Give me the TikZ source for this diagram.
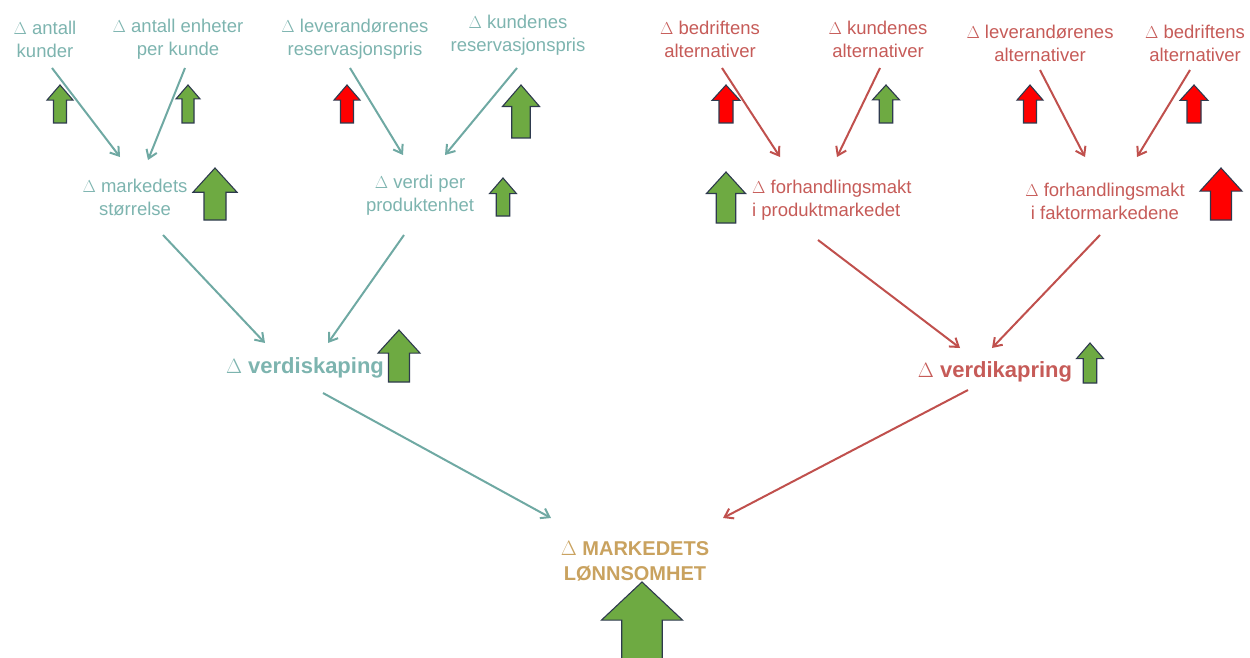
\documentclass[tikz,border=0pt]{standalone}
\usepackage{fontspec}
\setmainfont{Liberation Sans}
\usetikzlibrary{arrows.meta,calc}
\definecolor{tealtxt}{HTML}{7DB4AF}
\definecolor{tealln}{HTML}{6FA9A3}
\definecolor{redtxt}{HTML}{C65B58}
\definecolor{redln}{HTML}{C0504D}
\definecolor{goldtxt}{HTML}{C9A25F}
\definecolor{agreen}{HTML}{6EAA42}
\definecolor{ared}{HTML}{FF0000}
\definecolor{aedge}{HTML}{2E3A4E}
\newcommand\blockup[6]{%
  \pgfmathsetmacro\hw{#5/2}\pgfmathsetmacro\sw{#5/4}\pgfmathsetmacro\hy{#3+#6*#5}%
  \draw[blockline,fill=#1] (#2,#3) -- (#2+\hw,\hy) -- (#2+\sw,\hy) -- (#2+\sw,#4)
    -- (#2-\sw,#4) -- (#2-\sw,\hy) -- (#2-\hw,\hy) -- cycle;}
\begin{document}
\begin{tikzpicture}[x=1pt,y=-1pt,
  lbl/.style={align=center,inner sep=0pt,font=\fontsize{18.5}{23}\selectfont},
  tl/.style={lbl,text=tealtxt},
  rl/.style={lbl,text=redtxt},
  big/.style={inner sep=0pt,font=\fontsize{22}{26}\selectfont\bfseries},
  tconn/.style={draw=tealln,line width=2pt,-{Straight Barb[length=8pt,width=11pt]}},
  rconn/.style={draw=redln,line width=2pt,-{Straight Barb[length=8pt,width=11pt]}},
  blockline/.style={draw=aedge,line width=1.1pt,line join=miter}]
\useasboundingbox (0,0) rectangle (1250,658);
\clip (0,0) rectangle (1250,658);
% top row, teal
\node[tl] (ak) at (45,39) {$\Delta$ antall\\kunder};
\node[tl] (ae) at (178,39) {$\Delta$ antall enheter\\per kunde};
\node[tl] (lr) at (355,39) {$\Delta$ leverandørenes\\reservasjonspris};
\node[tl] (kr) at (518,35) {$\Delta$ kundenes\\reservasjonspris};
% top row, red
\node[rl] (ba) at (710,39) {$\Delta$ bedriftens\\alternativer};
\node[rl] (ka) at (878,39) {$\Delta$ kundenes\\alternativer};
\node[rl] (la) at (1040,43) {$\Delta$ leverandørenes\\alternativer};
\node[rl] (bb) at (1195,43) {$\Delta$ bedriftens\\alternativer};
% middle row
\node[tl] (ms) at (135,197) {$\Delta$ markedets\\størrelse};
\node[tl] (vp) at (420,195) {$\Delta$ verdi per\\produktenhet};
\node[rl,align=left,anchor=west] (fp) at (752,200) {$\Delta$ forhandlingsmakt\\i produktmarkedet};
\node[rl] (ff) at (1105,201) {$\Delta$ forhandlingsmakt\\i faktormarkedene};
% third row
\node[big,text=tealtxt] (vs) at (305,368) {$\Delta$ verdiskaping};
\node[big,text=redtxt] (vk) at (995,372) {$\Delta$ verdikapring};
% bottom
\node[inner sep=0pt,align=center,text=goldtxt,font=\fontsize{20}{25}\selectfont\bfseries] (ml) at (635,561) {$\Delta$ MARKEDETS\\LØNNSOMHET};
% connectors
\draw[tconn] ($(ak)+(7,29)$) -- ($(ms)+(-15,-40)$);
\draw[tconn] ($(ae)+(7,29)$) -- ($(ms)+(13,-37)$);
\draw[tconn] ($(lr)+(-5,29)$) -- ($(vp)+(-17,-40)$);
\draw[tconn] ($(kr)+(-1,33)$) -- ($(vp)+(25,-40)$);
\draw[tconn] ($(ms)+(28,38)$) -- ($(vs)+(-40,-25)$);
\draw[tconn] ($(vp)+(-16,40)$) -- ($(vs)+(23,-25)$);
\draw[tconn] ($(vs)+(18,25)$) -- ($(ml)+(-84,-43)$);
\draw[rconn] ($(ba)+(12,29)$) -- ($(fp.west)+(28,-43)$);
\draw[rconn] ($(ka)+(2,29)$) -- ($(fp.west)+(85,-43)$);
\draw[rconn] ($(la)+(0,27)$) -- ($(ff)+(-20,-44)$);
\draw[rconn] ($(bb)+(-5,27)$) -- ($(ff)+(32,-44)$);
\draw[rconn] ($(fp.west)+(66,40)$) -- ($(vk)+(-35,-24)$);
\draw[rconn] ($(ff)+(-5,34)$) -- ($(vk)+(-3,-24)$);
\draw[rconn] ($(vk)+(-27,18)$) -- ($(ml)+(88,-43)$);
% block arrows
\blockup{agreen}{60}{85}{123}{26}{0.58}
\blockup{agreen}{188}{85}{123}{24}{0.58}
\blockup{ared}{347}{85}{123}{26}{0.58}
\blockup{agreen}{521}{85}{138}{37}{0.58}
\blockup{agreen}{215}{168}{220}{44}{0.55}
\blockup{agreen}{503}{178}{216}{27}{0.58}
\blockup{ared}{726}{85}{123}{28}{0.55}
\blockup{agreen}{886}{85}{123}{27}{0.55}
\blockup{agreen}{726}{172}{223}{39}{0.55}
\blockup{ared}{1030}{85}{123}{26}{0.58}
\blockup{ared}{1194}{85}{123}{28}{0.55}
\blockup{ared}{1221}{168}{220}{42}{0.55}
\blockup{agreen}{399}{330}{382}{42}{0.55}
\blockup{agreen}{1090}{343}{383}{27}{0.58}
\blockup{agreen}{642}{582}{700}{81}{0.47}
\end{tikzpicture}
\end{document}
